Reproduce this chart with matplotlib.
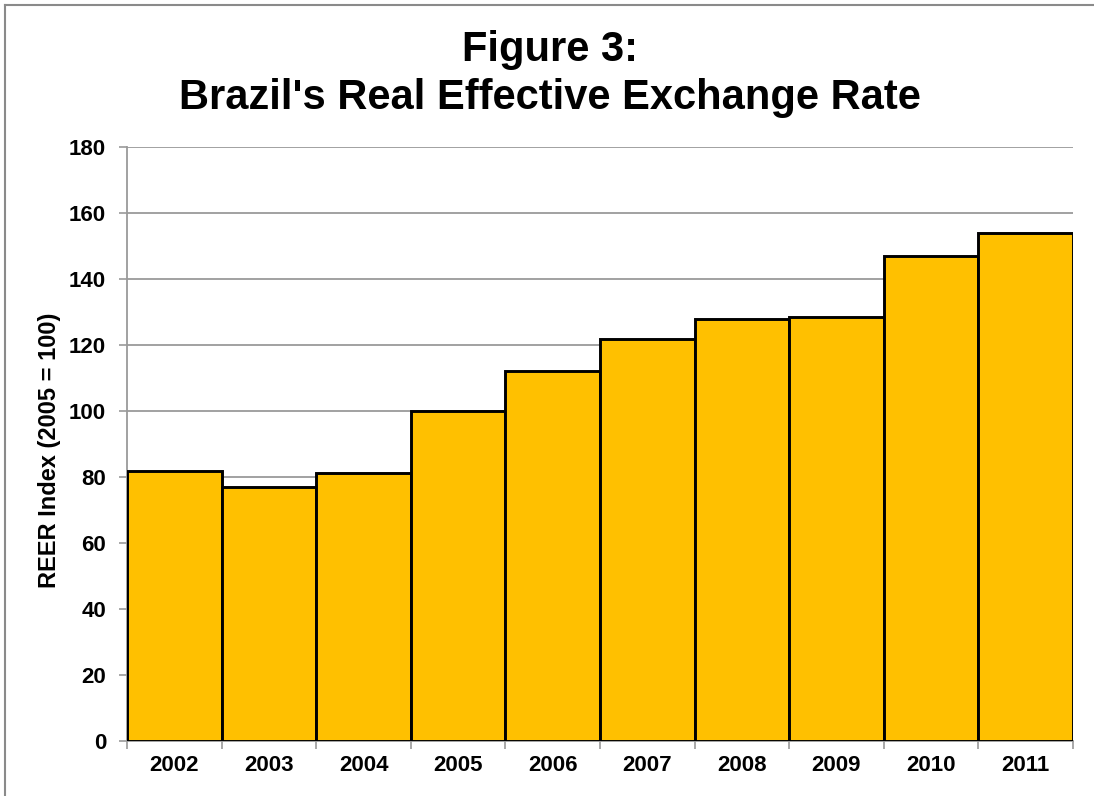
import matplotlib
matplotlib.use("Agg")
import matplotlib.pyplot as plt
from matplotlib.lines import Line2D
import numpy as np

years = ["2002", "2003", "2004", "2005", "2006", "2007", "2008", "2009", "2010", "2011"]
reer = [81.8, 77.0, 81.3, 100.0, 112.0, 121.7, 128.0, 128.6, 147.0, 153.9]
yticks = [0, 20, 40, 60, 80, 100, 120, 140, 160, 180]

plt.rcParams['font.family'] = ['Liberation Sans', 'DejaVu Sans']

W, H = 1094, 796
fig = plt.figure(figsize=(W / 100, H / 100), dpi=100)
ax = fig.add_axes([127 / W, 1 - 740.7 / H, (1073 - 127) / W, (740.7 - 147.3) / H])

x = np.arange(len(years))
ax.bar(x, reer, width=1.0, color="#FFC000", edgecolor="black", linewidth=2.1, zorder=3)

ax.set_xlim(-0.5, len(years) - 0.5)
ax.set_ylim(0, 180)
ax.set_yticks(yticks)
ax.set_yticklabels([str(v) for v in yticks], fontsize=16, fontweight="bold")
ax.yaxis.grid(True, color="#9a9a9a", linewidth=1.3, zorder=0)
ax.set_axisbelow(True)

# x ticks at category boundaries, labels at centers
ax.set_xticks(np.arange(-0.5, len(years) + 0.5, 1.0))
ax.set_xticklabels([])
ax.set_xticks(x, minor=True)
ax.set_xticklabels(years, minor=True, fontsize=16, fontweight="bold")
ax.tick_params(axis="x", which="major", length=6, width=1.2, color="#9a9a9a", direction="out")
ax.tick_params(axis="x", which="minor", length=0, pad=10)
ax.tick_params(axis="y", length=6, width=1.2, color="#9a9a9a", pad=9)

for s in ["top", "right"]:
    ax.spines[s].set_visible(False)
for s in ["left", "bottom"]:
    ax.spines[s].set_color("#9a9a9a")
    ax.spines[s].set_linewidth(1.3)

ax.set_ylabel("REER Index (2005 = 100)", fontsize=17, fontweight="bold")
ax.yaxis.set_label_coords((61 - 127) / (1073 - 127), 0.49)

fig.text(0.503, 1 - 50 / H, "Figure 3:", ha="center", va="center", fontsize=30, fontweight="bold")
fig.text(0.503, 1 - 98 / H, "Brazil's Real Effective Exchange Rate", ha="center", va="center",
         fontsize=30, fontweight="bold")

# outer frame (top and left visible)
fig.add_artist(Line2D([5 / W, 1.0], [1 - 5 / H, 1 - 5 / H], color="#8a8a8a", linewidth=1.5))
fig.add_artist(Line2D([5 / W, 5 / W], [0.0, 1 - 5 / H], color="#8a8a8a", linewidth=1.5))

fig.savefig("out.png", dpi=100)
